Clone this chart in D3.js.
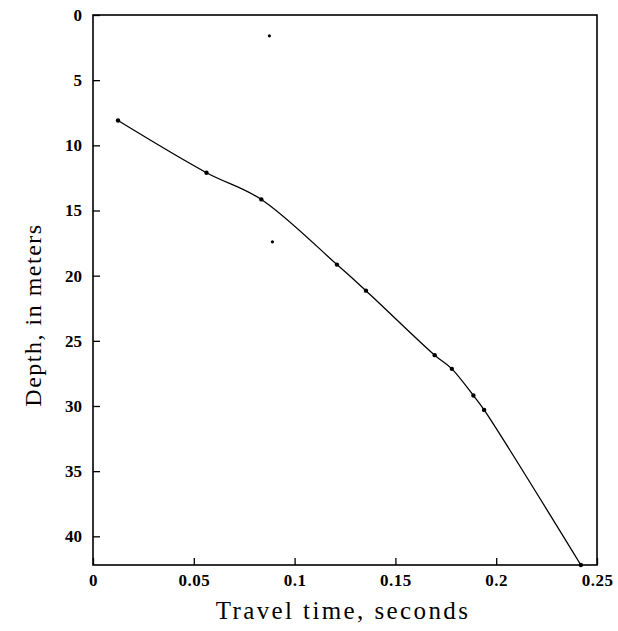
<!DOCTYPE html>
<html>
<head>
<meta charset="utf-8">
<script src="https://cdn.jsdelivr.net/npm/d3@7"></script>
<style>
  body { margin: 0; background: #fff; }
  svg { display: block; }
</style>
</head>
<body>
<div id="chart"></div>
<script>
// travel time (s) vs depth (m)
const travelTime = [0.0124, 0.0563, 0.0835, 0.121, 0.1354, 0.1695, 0.178, 0.1887, 0.194, 0.242];
const depth = [8.1, 12.1, 14.15, 19.15, 21.15, 26.1, 27.15, 29.2, 30.3, 42.2];
// two lone dots off the curve
const strayTime = [0.0875, 0.089];
const strayDepth = [1.6, 17.4];

const xTicks = [0, 0.05, 0.1, 0.15, 0.2, 0.25];
const yTicks = [0, 5, 10, 15, 20, 25, 30, 35, 40];

let width = 618;
let height = 631;
let mLeft = 93, mRight = 597, mTop = 15, mBottom = 565;
let serif = '"Liberation Serif", "DejaVu Serif", serif';

let svg = d3.select('#chart')
  .append('svg')
  .attr('width', width)
  .attr('height', height);

let x = d3.scaleLinear().domain([0, 0.25]).range([mLeft, mRight]);
let y = d3.scaleLinear().domain([0, 42.2]).range([mTop, mBottom]);

// frame
svg.append('rect')
  .attr('x', mLeft)
  .attr('y', mTop)
  .attr('width', mRight - mLeft)
  .attr('height', mBottom - mTop)
  .attr('fill', 'none')
  .attr('stroke', '#000')
  .attr('stroke-width', 1.6);

// x axis, ticks pointing inward
let xAxis = d3.axisBottom(x)
  .tickValues(xTicks)
  .tickFormat(d3.format('~g'))
  .tickSizeInner(-7)
  .tickSizeOuter(0)
  .tickPadding(9);

let gx = svg.append('g')
  .attr('transform', `translate(0,${mBottom})`)
  .call(xAxis);
gx.select('.domain').remove();
gx.selectAll('line').attr('stroke-width', 1.3);
gx.selectAll('text')
  .attr('font-family', serif)
  .attr('font-size', 17)
  .attr('font-weight', 'bold')
  .attr('letter-spacing', 0.5)
  .attr('fill', '#000');

// y axis (depth increases downward)
let yAxis = d3.axisLeft(y)
  .tickValues(yTicks)
  .tickFormat(d3.format('d'))
  .tickSizeInner(-7)
  .tickSizeOuter(0)
  .tickPadding(11);

let gy = svg.append('g')
  .attr('transform', `translate(${mLeft},0)`)
  .call(yAxis);
gy.select('.domain').remove();
gy.selectAll('line').attr('stroke-width', 1.3);
gy.selectAll('text')
  .attr('font-family', serif)
  .attr('font-size', 17)
  .attr('font-weight', 'bold')
  .attr('fill', '#000');

// curve
let pts = travelTime.map((t, i) => [t, depth[i]]);
let line = d3.line()
  .x(d => x(d[0]))
  .y(d => y(d[1]))
  .curve(d3.curveCatmullRom.alpha(0.5));

svg.append('path')
  .datum(pts)
  .attr('d', line)
  .attr('fill', 'none')
  .attr('stroke', '#000')
  .attr('stroke-width', 1.3);

svg.selectAll('circle.pt')
  .data(pts)
  .join('circle')
  .attr('class', 'pt')
  .attr('cx', d => x(d[0]))
  .attr('cy', d => y(d[1]))
  .attr('r', 2.2)
  .attr('fill', '#000');

svg.selectAll('circle.stray')
  .data(strayTime.map((t, i) => [t, strayDepth[i]]))
  .join('circle')
  .attr('class', 'stray')
  .attr('cx', d => x(d[0]))
  .attr('cy', d => y(d[1]))
  .attr('r', 1.6)
  .attr('fill', '#000');

// axis titles
svg.append('text')
  .text('Travel time, seconds')
  .attr('x', 343)
  .attr('y', 619)
  .attr('text-anchor', 'middle')
  .attr('font-family', serif)
  .attr('font-size', 25)
  .attr('letter-spacing', 2.4)
  .attr('fill', '#000');

svg.append('text')
  .text('Depth, in meters')
  .attr('transform', 'translate(41,315) rotate(-90)')
  .attr('text-anchor', 'middle')
  .attr('font-family', serif)
  .attr('font-size', 24)
  .attr('letter-spacing', 1.5)
  .attr('fill', '#000');
</script>
</body>
</html>
